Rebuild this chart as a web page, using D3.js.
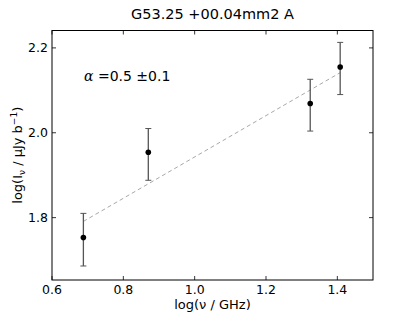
<!DOCTYPE html>
<html>
<head>
<meta charset="utf-8">
<script src="https://cdn.jsdelivr.net/npm/d3@7"></script>
<style>
  body { margin: 0; background: #fff; }
  text { font-family: "DejaVu Sans", sans-serif; }
</style>
</head>
<body>
<div id="chart"></div>
<script>
    var w = 415, h = 312;
    var margin = {left: 52, right: 42, top: 30.5, bottom: 32};

    // measurements, log space
    var logNu = [0.688, 0.870, 1.324, 1.408];
    var logI = [1.753, 1.954, 2.069, 2.155];
    var errHi = [1.810, 2.010, 2.126, 2.213];
    var errLo = [1.686, 1.888, 2.004, 2.090];

    // power-law fit
    var fitSlope = 0.487;
    var fitIntercept = 1.456;

    var xTicks = [0.6, 0.8, 1.0, 1.2, 1.4];
    var yTicks = [1.8, 2.0, 2.2];

    var xScale = d3.scaleLinear()
        .domain([0.6, 1.5])
        .range([margin.left, w - margin.right]);
    var yScale = d3.scaleLinear()
        .domain([1.653, 2.241])
        .range([h - margin.bottom, margin.top]);

    var svg = d3.select("#chart").append("svg")
        .attr("width", w)
        .attr("height", h);

    var x0 = margin.left, x1 = w - margin.right;
    var y0 = h - margin.bottom, y1 = margin.top;

    // fit line
    var fitX = d3.extent(logNu);
    svg.append("path")
        .datum(fitX.map(function (x) { return [x, fitIntercept + fitSlope * x]; }))
        .attr("d", d3.line()
            .x(function (d) { return xScale(d[0]); })
            .y(function (d) { return yScale(d[1]); }))
        .attr("fill", "none")
        .attr("stroke", "#a8a8a8")
        .attr("stroke-width", 1)
        .attr("stroke-dasharray", "4,3");

    // error bars
    var eb = svg.selectAll("g.err")
        .data(logNu)
        .enter()
        .append("g")
        .attr("class", "err")
        .attr("stroke", "#555")
        .attr("stroke-width", 1.3);
    eb.append("line")
        .attr("x1", function (d) { return xScale(d); })
        .attr("x2", function (d) { return xScale(d); })
        .attr("y1", function (d, i) { return yScale(errLo[i]); })
        .attr("y2", function (d, i) { return yScale(errHi[i]); });
    eb.append("line")
        .attr("x1", function (d) { return xScale(d) - 3; })
        .attr("x2", function (d) { return xScale(d) + 3; })
        .attr("y1", function (d, i) { return yScale(errLo[i]); })
        .attr("y2", function (d, i) { return yScale(errLo[i]); })
        .attr("stroke-width", 1);
    eb.append("line")
        .attr("x1", function (d) { return xScale(d) - 3; })
        .attr("x2", function (d) { return xScale(d) + 3; })
        .attr("y1", function (d, i) { return yScale(errHi[i]); })
        .attr("y2", function (d, i) { return yScale(errHi[i]); })
        .attr("stroke-width", 1);

    svg.selectAll("circle")
        .data(logNu)
        .enter()
        .append("circle")
        .attr("cx", function (d) { return xScale(d); })
        .attr("cy", function (d, i) { return yScale(logI[i]); })
        .attr("r", 2.8)
        .attr("fill", "#000");

    // frame
    svg.append("rect")
        .attr("x", x0).attr("y", y1)
        .attr("width", x1 - x0).attr("height", y0 - y1)
        .attr("fill", "none")
        .attr("stroke", "#000")
        .attr("stroke-width", 1);

    // inward ticks on all sides
    var tl = 4;
    var tk = svg.append("g").attr("stroke", "#000").attr("stroke-width", 0.8);
    xTicks.forEach(function (t) {
        var x = xScale(t);
        tk.append("line").attr("x1", x).attr("x2", x).attr("y1", y0).attr("y2", y0 - tl);
        tk.append("line").attr("x1", x).attr("x2", x).attr("y1", y1).attr("y2", y1 + tl);
    });
    yTicks.forEach(function (t) {
        var y = yScale(t);
        tk.append("line").attr("x1", x0).attr("x2", x0 + tl).attr("y1", y).attr("y2", y);
        tk.append("line").attr("x1", x1).attr("x2", x1 - tl).attr("y1", y).attr("y2", y);
    });

    svg.selectAll("text.xt")
        .data(xTicks)
        .enter()
        .append("text")
        .attr("x", function (d) { return xScale(d); })
        .attr("y", y0 + 14)
        .attr("text-anchor", "middle")
        .attr("font-size", 12.5)
        .text(function (d) { return d.toFixed(1); });

    svg.selectAll("text.yt")
        .data(yTicks)
        .enter()
        .append("text")
        .attr("x", x0 - 4)
        .attr("y", function (d) { return yScale(d) + 4.5; })
        .attr("text-anchor", "end")
        .attr("font-size", 12.5)
        .text(function (d) { return d.toFixed(1); });

    // title
    svg.append("text")
        .attr("x", (x0 + x1) / 2)
        .attr("y", 19)
        .attr("text-anchor", "middle")
        .attr("font-size", 14.5)
        .text("G53.25 +00.04mm2 A");

    // x label
    svg.append("text")
        .attr("x", (x0 + x1) / 2)
        .attr("y", 309)
        .attr("text-anchor", "middle")
        .attr("font-size", 13)
        .text("log(ν / GHz)");

    // y label
    var yl = svg.append("text")
        .attr("transform", "translate(22," + (y0 + y1) / 2 + ") rotate(-90)")
        .attr("text-anchor", "middle")
        .attr("font-size", 13);
    yl.append("tspan").text("log(I");
    yl.append("tspan").attr("font-size", 9).attr("dy", 3).text("ν");
    yl.append("tspan").attr("dy", -3).text(" / μJy b");
    yl.append("tspan").attr("font-size", 9).attr("dy", -5).text("−1");
    yl.append("tspan").attr("dy", 5).text(")");

    // spectral index annotation
    var an = svg.append("text")
        .attr("x", 84)
        .attr("y", 81)
        .attr("font-size", 14);
    an.append("tspan").attr("font-family", "DejaVu Serif").attr("font-style", "italic").text("α");
    an.append("tspan").text(" =0.5 ±0.1");
</script>
</body>
</html>
